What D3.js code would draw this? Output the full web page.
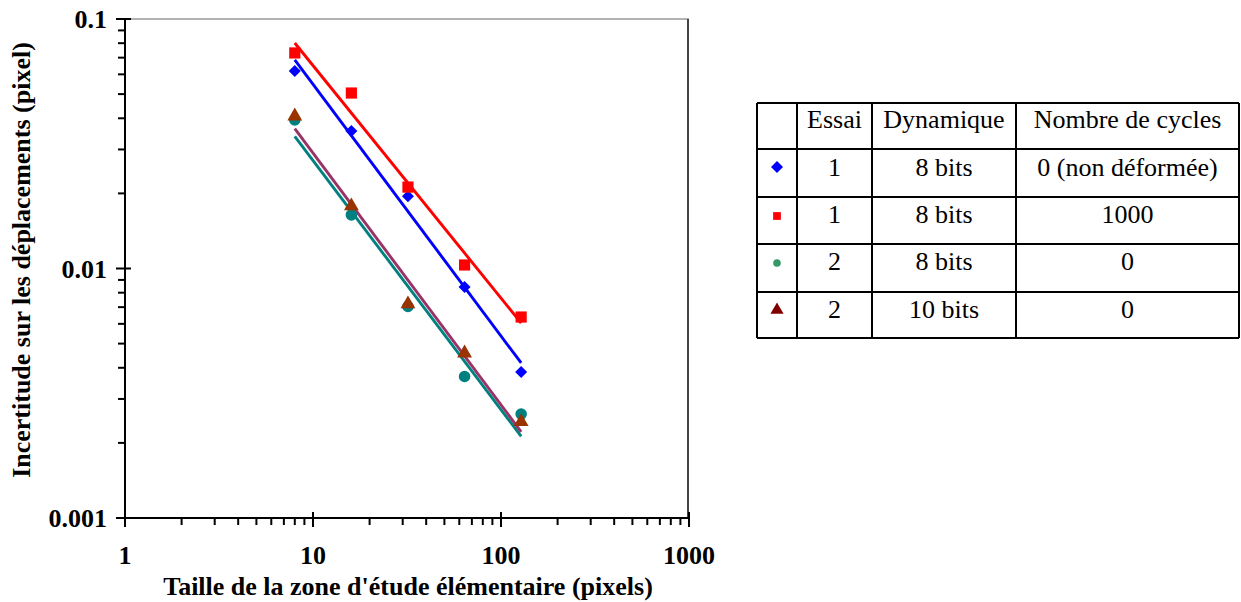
<!DOCTYPE html>
<html><head><meta charset="utf-8">
<script src="https://cdn.jsdelivr.net/npm/d3@7"></script>
<style>body{margin:0;background:#fff}svg{display:block}</style>
</head><body>
<svg id="c" width="1241" height="602"></svg>
<script>
const sizes = [8, 16, 32, 64, 128];
const essai1_8bits_0 = [0.0619, 0.0356, 0.0195, 0.00843, 0.00385];
const essai1_8bits_1000 = [0.0731, 0.0505, 0.0212, 0.01033, 0.00639];
const essai2_8bits_0 = [0.0394, 0.0164, 0.00704, 0.00369, 0.00261];
const essai2_10bits_0 = [0.0408, 0.0178, 0.00721, 0.00458, 0.00243];
const xTicks = [1, 10, 100, 1000];
const yTicks = [0.001, 0.01, 0.1];
const legendHeader = ["", "Essai", "Dynamique", "Nombre de cycles"];
const legendRows = [["1", "8 bits", "0 (non déformée)"], ["1", "8 bits", "1000"], ["2", "8 bits", "0"], ["2", "10 bits", "0"]];
const xTitle = "Taille de la zone d'étude élémentaire (pixels)";
const yTitle = "Incertitude sur les déplacements (pixel)";

const series = [
  {v: essai1_8bits_0, shape: "diamond", color: "#0000ff", line: "#0000ff", legColor: "#0000ff"},
  {v: essai1_8bits_1000, shape: "square", color: "#ff0000", line: "#ff0000", legColor: "#ff0000"},
  {v: essai2_8bits_0, shape: "circle", color: "#008080", line: "#008080", legColor: "#339966"},
  {v: essai2_10bits_0, shape: "triangle", color: "#993300", line: "#993366", legColor: "#800000"}
];

const svg = d3.select("#c");
const font = "'Liberation Serif','Times New Roman',serif";
const x = d3.scaleLog().domain([1, 1000]).range([125, 689]);
const y = d3.scaleLog().domain([0.001, 0.1]).range([518, 19]);

// frame
svg.append("line").attr("x1", 125).attr("x2", 689).attr("y1", 19).attr("y2", 19).attr("stroke", "#999").attr("stroke-width", 1.5);
svg.append("line").attr("x1", 688).attr("x2", 688).attr("y1", 19).attr("y2", 518).attr("stroke", "#444").attr("stroke-width", 2);

// minor ticks
const xMinor = [], yMinor = [];
for (let d = 1; d < 1000; d *= 10) for (let k = 2; k <= 9; k++) xMinor.push(d * k);
for (let d = 0.001; d < 0.1; d *= 10) for (let k = 2; k <= 9; k++) yMinor.push(d * k);
const ax = svg.append("g").attr("stroke", "#000").attr("stroke-width", 2);
ax.append("line").attr("x1", 125).attr("x2", 125).attr("y1", 19).attr("y2", 518);
ax.append("line").attr("x1", 125).attr("x2", 689).attr("y1", 518).attr("y2", 518);
ax.selectAll(".xm").data(xMinor).join("line").attr("x1", d => x(d)).attr("x2", d => x(d)).attr("y1", 518).attr("y2", 525);
ax.selectAll(".xM").data(xTicks).join("line").attr("x1", d => x(d)).attr("x2", d => x(d)).attr("y1", 512).attr("y2", 527);
ax.selectAll(".ym").data(yMinor).join("line").attr("y1", d => y(d)).attr("y2", d => y(d)).attr("x1", 118).attr("x2", 125);
ax.selectAll(".yM").data(yTicks).join("line").attr("y1", d => y(d)).attr("y2", d => y(d)).attr("x1", 116).attr("x2", 131);

// tick labels
svg.selectAll(".xl").data(xTicks).join("text").attr("x", d => x(d)).attr("y", 564)
  .attr("text-anchor", "middle").attr("font-family", font).attr("font-weight", "bold").attr("font-size", 26).text(d => d);
svg.selectAll(".yl").data(yTicks).join("text").attr("x", 107).attr("y", d => y(d) + 9)
  .attr("text-anchor", "end").attr("font-family", font).attr("font-weight", "bold").attr("font-size", 26).text(d => d);

svg.append("text").attr("x", 408).attr("y", 595).attr("text-anchor", "middle").attr("font-family", font)
  .attr("font-weight", "bold").attr("font-size", 26).text(xTitle);
svg.append("text").attr("transform", "translate(30,260) rotate(-90)").attr("text-anchor", "middle").attr("font-family", font)
  .attr("font-weight", "bold").attr("font-size", 26).text(yTitle);

// power trendlines (least squares in log-log)
function fit(vals) {
  const u = sizes.map(Math.log10), w = vals.map(Math.log10);
  const mu = d3.mean(u), mw = d3.mean(w);
  const b = d3.sum(u.map((ui, i) => (ui - mu) * (w[i] - mw))) / d3.sum(u.map(ui => (ui - mu) ** 2));
  const a = mw - b * mu;
  return xv => Math.pow(10, a + b * Math.log10(xv));
}
const lineG = svg.append("g");
series.forEach(s => {
  const f = fit(s.v);
  const xs = [sizes[0], sizes[sizes.length - 1]];
  lineG.append("path").attr("d", d3.line().x(d => x(d)).y(d => y(f(d)))(xs))
    .attr("stroke", s.line).attr("stroke-width", 2.9).attr("fill", "none");
});

const symType = {diamond: d3.symbolSquare, square: d3.symbolSquare, circle: d3.symbolCircle, triangle: d3.symbolTriangle};
const symRot = {diamond: 45, square: 0, circle: 0, triangle: 0};
const symSize = {diamond: 72, square: 125, circle: 105, triangle: 95};
const mg = svg.append("g");
series.forEach(s => {
  mg.selectAll(null).data(s.v).join("path")
    .attr("transform", (d, i) => `translate(${x(sizes[i])},${y(d)}) rotate(${symRot[s.shape]})`)
    .attr("d", d3.symbol().type(symType[s.shape]).size(symSize[s.shape]))
    .attr("fill", s.color);
});

// legend table
const cols = [757, 797, 872, 1016, 1239];
const rows = [103, 149, 197, 244, 292, 338];
const lg = svg.append("g").attr("stroke", "#000").attr("stroke-width", 2);
cols.forEach(c => lg.append("line").attr("x1", c).attr("x2", c).attr("y1", rows[0]).attr("y2", rows[rows.length - 1]));
rows.forEach(r => lg.append("line").attr("x1", cols[0]).attr("x2", cols[cols.length - 1]).attr("y1", r).attr("y2", r));
const tf = 26;
legendHeader.forEach((t, j) => {
  svg.append("text").attr("x", (cols[j] + cols[j + 1]) / 2).attr("y", 128).attr("text-anchor", "middle")
    .attr("font-family", font).attr("font-size", tf).text(t);
});
const legY = [176, 223, 270, 318];
legendRows.forEach((r, i) => {
  r.forEach((t, j) => {
    svg.append("text").attr("x", (cols[j + 1] + cols[j + 2]) / 2).attr("y", legY[i]).attr("text-anchor", "middle")
      .attr("font-family", font).attr("font-size", tf).text(t);
  });
});
const legSym = {diamond: 72, square: 60, circle: 45, triangle: 75};
const symY = [167, 216, 263, 310];
series.forEach((s, i) => {
  svg.append("path").attr("transform", `translate(777,${symY[i]}) rotate(${symRot[s.shape]})`)
    .attr("d", d3.symbol().type(symType[s.shape]).size(legSym[s.shape])).attr("fill", s.legColor);
});
</script>
</body></html>
